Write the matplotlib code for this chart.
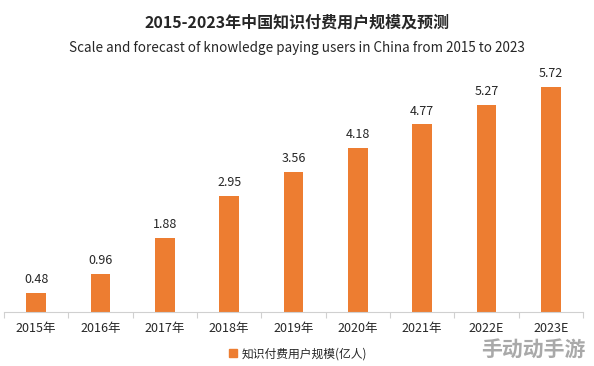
import matplotlib
matplotlib.use("Agg")
import matplotlib.pyplot as plt
from matplotlib.lines import Line2D

plt.rcParams['font.family'] = ['Noto Sans CJK SC', 'DejaVu Sans']

categories = ["2015年", "2016年", "2017年", "2018年", "2019年", "2020年", "2021年", "2022E", "2023E"]
values = [0.48, 0.96, 1.88, 2.95, 3.56, 4.18, 4.77, 5.27, 5.72]
title = "2015-2023年中国知识付费用户规模及预测"
subtitle = "Scale and forecast of knowledge paying users in China from 2015 to 2023"
legend_label = "知识付费用户规模(亿人)"
bar_color = "#ED7D31"

W, H = 594, 366
fig = plt.figure(figsize=(W / 100, H / 100), dpi=100)
fig.patch.set_facecolor("white")
ax = fig.add_axes([4 / W, (H - 312) / H, (583 - 4) / W, (312 - 60) / H])

x = list(range(len(categories)))
ax.bar(x, values, width=0.31, color=bar_color)
for xi, v in zip(x, values):
    ax.annotate(f"{v:.2f}", (xi, v), xytext=(0, 5), textcoords="offset points",
                ha="center", va="bottom", fontsize=9, color="#262626")

ax.set_xlim(-0.5, len(categories) - 0.5)
ax.set_ylim(0, 6.41)
ax.set_xticks(x)
ax.set_xticklabels(categories, fontsize=9, color="#262626")
ax.tick_params(axis="x", which="major", length=0, pad=7)
ax.set_xticks([i - 0.5 for i in range(len(categories) + 1)], minor=True)
ax.tick_params(axis="x", which="minor", length=4, color="#d0d0d0", width=0.8)
ax.set_yticks([])
for s in ["top", "right", "left"]:
    ax.spines[s].set_visible(False)
ax.spines["bottom"].set_color("#d0d0d0")
ax.spines["bottom"].set_linewidth(0.8)

fig.text(0.5, 1 - 22 / H, title, ha="center", va="center", fontsize=11.5,
         fontweight="bold", color="#262626")
fig.text(0.5, 1 - 48 / H, subtitle, ha="center", va="center", fontsize=9.7,
         color="#262626")

handle = Line2D([], [], marker="s", linestyle="none", markersize=6,
                markerfacecolor=bar_color, markeredgecolor=bar_color)
fig.legend([handle], [legend_label], loc="center", bbox_to_anchor=(0.5, 1 - 354 / H),
           frameon=False, fontsize=8.5, handletextpad=0.2, handlelength=1.0,
           labelcolor="#262626")

fig.text(585 / W, 1 - 349 / H, "手动动手游", ha="right", va="center", fontsize=15,
         fontweight="bold", color="#9a9a9a", alpha=0.85)

fig.savefig("out.png", dpi=100, facecolor="white")
